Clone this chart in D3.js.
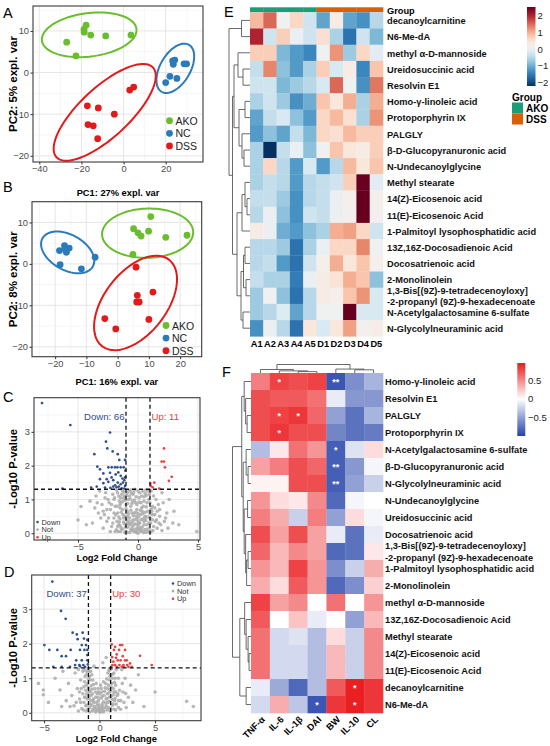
<!DOCTYPE html>
<html><head><meta charset="utf-8">
<script src="https://cdn.jsdelivr.net/npm/d3@7"></script>
<style>body{margin:0;background:#fff} svg{display:block}</style>
</head><body><svg id="c" width="550" height="746"></svg>
<script>
// ---------------- DATA ----------------
const groupNames = ["AKO","NC","DSS"];
const pcaA_AKO = [[-27,7.3],[-22.6,4],[-18.8,10.4],[-18.7,9.7],[-17.8,11.4],[-15.6,9],[-8.5,8.8],[3.5,9]];
const pcaA_NC  = [[20,-2.4],[22,-0.9],[23.6,2],[24.3,3],[23.3,2.8],[25.3,-1.4],[28.7,2.1],[29.9,2.1]];
const pcaA_DSS = [[2.9,-4.2],[4.8,-3.5],[-17.2,-8],[-12,-8.5],[-4.4,-10],[-16.9,-12.5],[-14.4,-12.8],[-12.3,-15.9]];
const pcaB_AKO = [[5.1,8.5],[6.5,7.5],[7.5,6.7],[9.9,7.9],[10.6,11.4],[15.4,6.4],[22.2,6.9],[4.9,2.3]];
const pcaB_NC  = [[-18.6,3.2],[-17,4.4],[-16.7,3.6],[-16.4,2.8],[-15.5,3.8],[-18.4,-0.2],[-11.6,-1.2],[-7.2,1.6]];
const pcaB_DSS = [[5.9,-0.8],[6.3,-7.6],[6.1,-9.2],[6.9,-9.2],[11.3,-6.8],[-4.1,-13.2],[-0.6,-15.7],[10,-13.4]];
const pcaTitlesA = ["PC1: 27% expl. var","PC2: 5% expl. var"];
const pcaTitlesB = ["PC1: 16% expl. var","PC2: 8% expl. var"];

const volcC_down = [[-8,3.85],[-5.64,3.2],[-2.33,2.98],[-2.67,2.71],[-2.56,2.51],[-3.64,2.34],[-2.11,2.42],[-1.69,2.34],[-1.56,2.17],[-1.08,2.17],[-3.39,1.97],[-3.17,1.89],[-2.47,1.95],[-2.19,1.95],[-1.92,1.95],[-1.72,1.95],[-1.44,1.95],[-1.19,1.95],[-2.89,1.77],[-2.33,1.79],[-1.86,1.74],[-1.64,1.8],[-1.44,1.7],[-1.08,1.65],[-3.44,1.38],[-2.89,1.48],[-2.47,1.52],[-2.06,1.57],[-1.69,1.5],[-1.44,1.45],[-1.14,1.57],[-1.08,1.4],[-3.17,1.6],[-2.61,1.6],[-2.06,1.38],[-1.78,1.36],[-1.36,1.33],[-1.14,1.32],[-3.9,1.35],[-2.3,1.34],[-1.9,1.42],[-1.6,1.38],[-1.25,1.5],[-1.05,1.85],[-2.75,1.35],[-6.3,1.32],[-1.3,1.62],[-2.2,1.65]];
const volcC_up = [[2.17,2.51],[1.97,2.12],[2.17,2.12],[2.25,1.95],[2.81,1.67],[2.58,1.55],[1.36,1.5],[1.06,1.4],[1.03,1.47],[1.78,1.32],[1.22,1.36]];
const volcC_not = [[-0.2,0.05],[0.3,0.08],[-0.6,0.1],[0.7,0.12],[-1,0.06],[1.1,0.05],[-1.4,0.15],[0.1,0.18],[-0.4,0.22],[0.5,0.25],[-0.8,0.28],[0.9,0.3],[-1.2,0.33],[1.3,0.2],[-1.6,0.25],[0,0.35],[-0.3,0.4],[0.4,0.42],[-0.7,0.45],[0.8,0.48],[-1.1,0.5],[1.2,0.4],[-1.5,0.42],[1.6,0.15],[-1.8,0.1],[2,0.08],[-2.2,0.2],[0.2,0.55],[-0.5,0.6],[0.6,0.62],[-0.9,0.65],[1,0.58],[-1.3,0.7],[-1.7,0.6],[1.4,0.55],[-0.1,0.7],[0.3,0.75],[-0.6,0.8],[0.7,0.78],[-1,0.85],[-1.4,0.9],[1.1,0.72],[-1.9,0.8],[-0.2,0.9],[0.5,0.95],[-0.8,1],[0.9,1],[-1.2,1.05],[-1.6,1.1],[0.1,1.05],[-0.4,1.15],[0.6,1.18],[-0.9,1.2],[1.3,1.1],[-1.3,1.25],[-2.1,1.15],[-2.5,1],[-2.3,0.7],[-2.8,0.55],[-2.6,0.35],[-3,0.85],[-3.3,0.6],[-2,0.45],[1.8,0.5],[2.2,0.35],[1.7,0.85],[2.4,0.6],[1.5,1],[2,1.2],[0,1.25],[-0.6,1.28],[-1.8,1.28],[-2.7,1.2],[-3.5,1.1],[-4,0.95],[-4.75,0.79],[-5,0.39],[-3.8,0.3],[2.9,0.3],[3.4,0.25],[4.9,0.05],[3,0.65],[2.6,1],[-0.05,0.15],[0.15,0.3],[-0.35,0.05],[0.45,0.02],[-0.75,0.35],[0.65,0.38],[-1.05,0.18],[0.95,0.15],[-1.25,0.55],[1.15,0.65],[-0.15,0.5],[0.35,0.65],[-0.55,0.3],[0.25,0.9],[-0.45,0.95],[-1.5,0.75],[-1.1,1.1],[0.75,0.9],[-2.4,0.9],[-2,1],[-1.75,0.35],[1.9,0.25],[-0.9,0.02],[0,0],[-0.3,0.6],[0.55,0.45],[-1.65,0.05],[1.45,0.35],[-2.9,0.15],[2.5,0.15],[-3.2,1.25],[-4.3,0.25],[-0.25,1.3],[0.85,1.25],[-0.7,1.1],[-3.6,0.75],[-0.1,0.25],[0.2,0.12],[-0.5,0.15],[0.05,0.48],[-0.85,0.5],[0.45,0.8],[-1.35,1.15],[-1.55,0.95],
 [-1.9,0.05],[-1.7,0.2],[-1.55,0.33],[-1.45,0.05],[-1.3,0.12],[-1.15,0.28],[-0.95,0.4],[-0.85,0.18],[-0.65,0.25],[-0.45,0.38],[-0.25,0.12],[-0.1,0.42],[0.05,0.28],[0.25,0.4],[0.35,0.18],[0.55,0.1],[0.75,0.25],[0.85,0.05],[1.05,0.3],[1.25,0.08],
 [-1.85,0.55],[-1.6,0.48],[-1.4,0.62],[-1.2,0.45],[-1,0.72],[-0.8,0.58],[-0.6,0.68],[-0.4,0.52],[-0.2,0.62],[0,0.58],[0.2,0.68],[0.4,0.58],[0.6,0.5],[0.8,0.65],[1,0.45],[1.2,0.55],
 [-1.75,0.8],[-1.5,0.85],[-1.25,0.95],[-1.05,0.98],[-0.85,0.88],[-0.65,1.02],[-0.5,0.88],[-0.3,0.98],[-0.1,0.85],[0.1,0.92],[0.3,1.1],[0.5,1.08],[0.7,1.12],[1,0.9],[1.2,0.8],
 [-1.95,1.05],[-1.7,1.2],[-1.45,1.05],[-1.15,1.22],[-0.95,1.12],[-0.75,1.25],[-0.55,1.18],[-0.35,1.22],[-0.15,1.08],[0.15,1.2],[0.4,1.25],[0.65,1.28],[0.95,1.15],[1.1,1.25],
 [-2.3,0.05],[-2.1,0.3],[-2,0.6],[-2.2,0.85],[-2.6,0.7],[-2.45,0.45],[-2.75,1.05],[-3.1,0.45],[-3.4,0.9],[-2.9,0.65],[1.4,0.75],[1.6,0.65],[1.55,0.4],[1.8,0.7],[2.1,0.9],[1.75,0.3],[2.3,0.45],
 [-0.7,0.02],[-0.5,0.08],[-0.15,0.02],[0.2,0.05],[0.65,0.02],[1,0.02],[-1.1,0.02],[-1.5,0.22],[0.5,0.35],[-0.3,0.28],[0,0.1],[-0.9,0.3]];
const volcC_counts = ["Down: 66","Up: 11"];

const volcD_down = [[-4.25,3.8],[-3.47,2.95],[-3.05,2.72],[-2.42,2.32],[-1.97,2.13],[-1.52,2.32],[-1.1,2.11],[-4.97,1.96],[-4.52,1.82],[-3.8,1.82],[-3.41,1.64],[-3.02,1.64],[-2.6,1.82],[-1.6,1.96],[-1.22,1.96],[-1.76,1.82],[-1.36,1.82],[-1.1,1.82],[-2.2,1.38],[-1.82,1.38],[-1.46,1.38],[-1.1,1.52],[-2.1,1.52],[-1.6,1.52],[-4.16,1.33],[-3.41,1.33],[-2.66,1.33],[-1.31,1.33],[-1.76,1.35],[-1.05,1.4],[-1.1,1.67],[-1.4,2.15],[-2.05,2.27]];
const volcD_up = [[1.1,1.98],[1.4,1.91],[1.85,1.96],[2.05,1.96],[2.3,1.82],[1.3,1.82],[1.55,1.69],[1.64,1.52],[1.9,1.52],[2.3,1.52],[2.45,1.52],[1.25,1.48],[1.16,1.38],[1.4,1.38],[1.79,1.38],[2.15,1.38],[2.5,1.38],[1.55,1.33],[2,1.33],[2.6,1.33],[2.9,1.33],[3.65,1.65],[4.7,1.38],[1.13,1.61],[1.49,1.59],[2.09,1.64],[2.75,1.43],[1.76,1.82],[1.04,1.33],[2.2,1.33]];
const volcD_not = [[0.1,0.02],[-0.3,0.05],[0.4,0.06],[-0.6,0.1],[0.7,0.08],[-0.9,0.15],[1,0.12],[-1.2,0.05],[1.3,0.1],[0,0.15],[-0.2,0.22],[0.25,0.25],[-0.5,0.3],[0.55,0.28],[-0.8,0.35],[0.85,0.33],[-1.1,0.4],[1.15,0.38],[-1.4,0.3],[1.5,0.25],[-1.6,0.12],[1.7,0.15],[-0.1,0.35],[0.15,0.42],[-0.35,0.45],[0.4,0.5],[-0.65,0.55],[0.7,0.55],[-0.95,0.6],[1,0.62],[-1.25,0.65],[1.3,0.6],[-1.5,0.55],[1.6,0.5],[-0.2,0.55],[0.2,0.6],[-0.45,0.7],[0.5,0.72],[-0.75,0.78],[0.8,0.8],[-1.05,0.85],[1.1,0.85],[-1.35,0.9],[1.35,0.88],[-0.6,0.95],[0.65,0.98],[-0.9,1.05],[0.95,1.05],[-1.2,1.1],[1.2,1.12],[-0.8,1.2],[0.85,1.22],[-1.05,1.28],[1.05,1.27],[-1.8,0.4],[1.9,0.35],[-2,0.7],[2.1,0.6],[-1.7,0.95],[1.7,1],[-2.3,0.2],[2.4,0.15],[-2.5,0.5],[2.6,0.45],[-2.2,1.15],[2.3,1],[-3,0.35],[3,0.3],[-2.8,0.85],[2.8,0.8],[-5.5,0.85],[-5.06,0.66],[-5.06,0.52],[-3.56,0.66],[-3.41,0.18],[-2.66,0.18],[4,0.18],[7.85,0.33],[8.45,0.18],[2.05,0.85],[2.35,0.56],[3.25,0.66],[-4,1],[-3.3,1.2],[3.5,1.1],[0.6,1.6],[0.3,1.45],[-0.5,1.35],[-0.05,0.08],[0.3,0.12],[-0.45,0.18],[0.6,0.2],[-0.7,0.22],[0.9,0.45],[-1,0.5],[-0.3,0.85],[0.35,0.9],[-1.5,1.2],[1.5,1.25],[-1.9,1.25],[2,1.25],[-4.6,0.3],[5,0.6],[-0.15,0.7],[0.1,0.8],[-1.15,0.22],[1.2,0.25],[-1.3,0.45],[1.4,0.42],[-0.85,0.62],[0.9,0.68],
 [-1.45,0.08],[-1.25,0.2],[-1.05,0.1],[-0.85,0.25],[-0.65,0.05],[-0.45,0.12],[-0.25,0.3],[-0.05,0.22],[0.15,0.1],[0.35,0.32],[0.55,0.15],[0.75,0.3],[0.95,0.05],[1.15,0.22],[1.35,0.35],[1.45,0.08],
 [-1.35,0.45],[-1.15,0.55],[-0.95,0.42],[-0.75,0.5],[-0.55,0.4],[-0.35,0.6],[-0.15,0.45],[0.05,0.55],[0.25,0.48],[0.45,0.62],[0.65,0.42],[0.85,0.58],[1.05,0.48],[1.25,0.52],[1.45,0.6],
 [-1.4,0.75],[-1.2,0.8],[-1,0.72],[-0.85,0.95],[-0.7,0.68],[-0.55,0.82],[0.55,0.85],[0.7,0.7],[0.9,0.95],[1.05,0.75],[1.25,0.7],[1.45,0.8],
 [-1.3,1.05],[-1.15,1.2],[-1,0.98],[-0.95,1.2],[-0.7,1.1],[0.75,1.15],[0.9,1.25],[1,1.1],[1.15,1],[1.3,1.15],[-1.4,1.25],[1.4,1],
 [-1.7,0.3],[-1.8,0.6],[-1.65,0.7],[1.7,0.35],[1.8,0.65],[1.65,0.55],[-2.1,0.3],[2.2,0.3],[-1.9,0.05],[1.9,0.1],[-0.9,0.02],[0.8,0.15],[0,0.02],[-0.35,0.02],[0.35,0.02],[-0.2,0.12],[0.25,0.18],[-0.6,0.35],[0.6,0.4],[-0.1,0.6],[0.15,0.7]];
const volcD_counts = ["Down: 37","Up: 30"];
const volcClasses = ["Down","Not","Up"];

const heatE_rows = ["decanoylcarnitine","N6-Me-dA","methyl α-D-mannoside","Ureidosuccinic acid","Resolvin E1","Homo-γ-linoleic acid","Protoporphyrin IX","PALGLY","β-D-Glucopyranuronic acid","N-Undecanoylglycine","Methyl stearate","14(Z)-Eicosenoic acid","11(E)-Eicosenoic Acid","1-Palmitoyl lysophosphatidic acid","13Z,16Z-Docosadienoic Acid","Docosatrienoic acid","2-Monolinolein","1,3-Bis[(9Z)-9-tetradecenoyloxy]|-2-propanyl (9Z)-9-hexadecenoate","N-Acetylgalactosamine 6-sulfate","N-Glycolylneuraminic acid"];
const heatE_cols = ["A1","A2","A3","A4","A5","D1","D2","D3","D4","D5"];
const heatE_group = ["AKO","AKO","AKO","AKO","AKO","DSS","DSS","DSS","DSS","DSS"];
const heatE_values = [
 [0.9,1.5,0.1,0.6,-0.3,-1.1,0.3,-1.1,-1.3,-0.5],
 [2.0,-0.3,0.7,0.0,-0.3,0.5,-0.6,-1.6,-0.3,-0.9],
 [0.7,0.7,-0.9,-1.2,-1.4,0.1,1.2,-0.7,0.6,-0.1],
 [-0.4,1.3,-0.8,-1.2,-0.6,0.7,-0.2,0.3,-1.4,0.8],
 [-0.3,-0.3,-0.9,-0.7,-0.5,-0.2,1.5,0.1,-1.3,1.4],
 [-0.6,-0.3,-0.7,-1.3,-1.0,0.8,0.4,1.0,-0.6,1.0],
 [-1.1,-0.4,-0.2,-0.8,-1.2,0.6,0.9,0.5,-0.6,1.2],
 [-1.2,-0.8,-1.1,-0.4,-0.9,0.6,0.5,0.9,0.7,0.7],
 [-0.6,-2.2,-0.4,0.0,-0.8,0.1,0.8,0.4,0.3,0.7],
 [-0.6,0.6,-0.5,-1.2,-0.2,-1.2,-0.5,0.9,0.4,0.8],
 [-0.6,-0.4,-0.5,-1.2,-0.5,-0.4,-0.3,0.7,2.5,-0.1],
 [-0.4,-0.4,-0.7,-1.3,-0.5,-0.4,0.05,0.2,2.5,0.2],
 [-0.5,0.05,-0.8,-1.3,-0.3,-0.4,0.05,0.15,2.5,0.15],
 [0.3,0.05,-1.0,-1.2,-0.8,-0.6,1.0,1.1,0.6,-0.3],
 [-0.5,-0.5,-0.7,-1.6,-0.6,0.0,0.6,0.6,1.3,0.1],
 [-0.5,-0.4,-1.2,-1.6,-0.3,0.2,1.0,0.4,0.8,0.2],
 [-0.4,-0.6,-0.6,-1.5,0.0,0.3,0.45,1.0,0.8,-0.8],
 [-0.7,0.1,-0.8,-1.6,-0.5,0.3,0.2,0.8,1.2,-0.2],
 [-0.7,-0.5,-0.15,-1.1,-0.5,0.1,0.1,2.5,-0.2,-0.2],
 [-1.3,0.05,-0.5,-1.6,0.4,-0.2,0.4,1.1,0.15,0.25]];
const heatE_ticks = [2,1,0,-1,-2];
const heatE_range = [-2.2,2.5];
const heatE_tree = {h:21,c:[{h:8.5,c:[0,1]},{h:17.5,c:[
  {h:16,c:[{h:12,c:[2,{h:7,c:[3,4]}]},{h:11,c:[{h:5,c:[5,6]},{h:8,c:[7,{h:6,c:[8,9]}]}]}]},
  {h:13,c:[{h:8,c:[{h:5,c:[10,{h:3,c:[11,12]}]},13]},{h:9,c:[{h:6.5,c:[{h:5,c:[14,15]},{h:4,c:[16,17]}]},{h:7,c:[18,19]}]}]}]}]};

const heatF_rows = ["Homo-γ-linoleic acid","Resolvin E1","PALGLY","Protoporphyrin IX","N-Acetylgalactosamine 6-sulfate","β-D-Glucopyranuronic acid","N-Glycolylneuraminic acid","N-Undecanoylglycine","Ureidosuccinic acid","Docosatrienoic acid","1,3-Bis[(9Z)-9-tetradecenoyloxy]|-2-propanyl (9Z)-9-hexadecenoate","1-Palmitoyl lysophosphatidic acid","2-Monolinolein","methyl α-D-mannoside","13Z,16Z-Docosadienoic Acid","Methyl stearate","14(Z)-Eicosenoic acid","11(E)-Eicosenoic Acid","decanoylcarnitine","N6-Me-dA"];
const heatF_cols = ["TNF-α","IL-6","IL-1β","DAI","BW","IL-10","CL"];
const heatF_values = [
 [0.55,0.8,0.75,0.8,-0.9,-0.6,-0.4],
 [0.75,0.7,0.7,0.6,-0.1,-0.55,-0.55],
 [0.75,0.8,0.85,0.65,-0.5,-0.75,-0.4],
 [0.75,0.85,0.75,0.75,-0.65,-0.75,-0.7],
 [-0.35,0.1,0.6,0.45,-0.85,-0.15,0.15],
 [0.4,0.55,0.75,0.65,-0.85,-0.55,-0.05],
 [0.05,0.05,0.75,0.75,-0.85,-0.5,-0.25],
 [0.45,0.15,0.1,0.5,-0.8,-0.05,0],
 [0.55,0.35,-0.25,0.55,-0.5,0.15,-0.05],
 [0.75,0.4,0.75,0.4,-0.1,-0.75,-0.1],
 [0.65,0.3,0.5,0.4,-0.8,-0.75,0.1],
 [0.45,0.3,0.8,0.45,-0.6,-0.25,0.35],
 [0.35,0.15,0.7,0.45,-0.8,-0.6,0.2],
 [0.8,0.4,0.5,0,0.6,0,0.45],
 [0.7,0,0.25,-0.1,0,-0.5,0.3],
 [0.6,-0.2,-0.15,-0.35,0.15,-0.25,0.5],
 [0.6,-0.2,-0.2,-0.35,0.3,-0.25,0.5],
 [0.6,-0.2,-0.2,-0.35,0.3,-0.25,0.5],
 [-0.1,-0.45,-0.8,-0.35,0.7,0.95,0.85],
 [-0.2,0.35,-0.3,-0.9,0.85,0.95,0.85]];
const heatF_stars = [[0,1,"*"],[0,4,"**"],[2,1,"*"],[2,2,"*"],[3,1,"*"],[4,4,"*"],[5,4,"**"],[6,4,"**"],[18,5,"*"],[19,3,"*"],[19,5,"*"]];
const heatF_ticks = [0.5,0,-0.5];
const heatF_range = [-1.0,0.97];
const heatF_rowTree = {h:19,c:[
  {h:9.5,c:[{h:7,c:[0,{h:5.5,c:[1,{h:4,c:[2,3]}]}]},{h:8,c:[{h:5,c:[4,{h:3,c:[5,6]}]},{h:7,c:[{h:3.5,c:[7,8]},{h:5.5,c:[9,{h:4.5,c:[{h:3,c:[10,11]},12]}]}]}]}]},
  {h:11.5,c:[{h:6.5,c:[13,{h:5,c:[14,{h:3,c:[15,{h:2,c:[16,17]}]}]}]},{h:5,c:[18,19]}]}]};
const heatF_colTree = {h:8,c:[{h:3.3,c:[0,{h:2,c:[1,{h:1.3,c:[2,3]}]}]},{h:3.7,c:[4,{h:3,c:[5,6]}]}]};

// ---------------- DRAWING ----------------
const FONT = '"Liberation Sans", Arial, Helvetica, sans-serif';
const svg = d3.select('#c').attr('font-family', FONT);
const colGroup = {AKO:"#6abd2c", NC:"#2b7bba", DSS:"#e31a1c"};

function label(t,x,y){ svg.append('text').attr('x',x).attr('y',y).attr('font-size',14.5).attr('fill','#000').text(t); }

function gridAndFrame(g,x,y,box,xMaj,xMin,yMaj,yMin){
  const [x0,x1,y0,y1]=box;
  g.append('rect').attr('x',x0).attr('y',y0).attr('width',x1-x0).attr('height',y1-y0).attr('fill','#fff');
  g.selectAll('.gxm').data(xMin).join('line').attr('x1',d=>x(d)).attr('x2',d=>x(d)).attr('y1',y0).attr('y2',y1).attr('stroke','#f0f0f0').attr('stroke-width',0.6);
  g.selectAll('.gym').data(yMin).join('line').attr('y1',d=>y(d)).attr('y2',d=>y(d)).attr('x1',x0).attr('x2',x1).attr('stroke','#f0f0f0').attr('stroke-width',0.6);
  g.selectAll('.gxM').data(xMaj).join('line').attr('x1',d=>x(d)).attr('x2',d=>x(d)).attr('y1',y0).attr('y2',y1).attr('stroke','#e3e3e3').attr('stroke-width',0.9);
  g.selectAll('.gyM').data(yMaj).join('line').attr('y1',d=>y(d)).attr('y2',d=>y(d)).attr('x1',x0).attr('x2',x1).attr('stroke','#e3e3e3').attr('stroke-width',0.9);
}
function frame(g,box){
  const [x0,x1,y0,y1]=box;
  g.append('rect').attr('x',x0).attr('y',y0).attr('width',x1-x0).attr('height',y1-y0).attr('fill','none').attr('stroke','#3a3a3a').attr('stroke-width',1.1);
}
function axes(g,x,y,box,xt,yt){
  const [x0,x1,y0,y1]=box;
  const fmt=d3.format('d');
  const ax=g.append('g').attr('transform',`translate(0,${y1})`).call(d3.axisBottom(x).tickValues(xt).tickSize(2.5).tickPadding(1).tickFormat(fmt));
  const ay=g.append('g').attr('transform',`translate(${x0},0)`).call(d3.axisLeft(y).tickValues(yt).tickSize(2.5).tickPadding(1.5).tickFormat(fmt));
  [ax,ay].forEach(a=>{a.select('.domain').remove();a.selectAll('line').attr('stroke','#333');
    a.selectAll('text').attr('fill','#4d4d4d').attr('font-size',9.3).attr('font-family',FONT);});
}
function ytitle(g,t,x,yc,fs){ g.append('text').attr('transform',`translate(${x},${yc}) rotate(-90)`).attr('text-anchor','middle').attr('dominant-baseline','central').attr('font-weight','bold').attr('font-size',fs).text(t); }
function xtitle(g,t,xc,y,fs){ g.append('text').attr('x',xc).attr('y',y).attr('text-anchor','middle').attr('dominant-baseline','central').attr('font-weight','bold').attr('font-size',fs).text(t); }

// robust covariance (MASS::cov.trob) + stat_ellipse (type t, level .95)
function ellipsePts(pts){
  const n=pts.length, nu=5, p=2;
  let loc=[d3.mean(pts,d=>d[0]),d3.mean(pts,d=>d[1])];
  let w=pts.map(()=>1), X;
  for(let it=0;it<25;it++){
    const w0=w.slice();
    X=pts.map(d=>[d[0]-loc[0],d[1]-loc[1]]);
    const sw=d3.sum(w);
    let a=0,b=0,c=0;
    X.forEach((v,i)=>{a+=w[i]*v[0]*v[0];b+=w[i]*v[0]*v[1];c+=w[i]*v[1]*v[1];});
    a/=sw;b/=sw;c/=sw;
    const det=a*c-b*b;
    const Q=X.map(v=>(c*v[0]*v[0]-2*b*v[0]*v[1]+a*v[1]*v[1])/det);
    w=Q.map(q=>(nu+p)/(nu+q));
    const sw2=d3.sum(w);
    loc=[d3.sum(pts,(d,i)=>w[i]*d[0])/sw2,d3.sum(pts,(d,i)=>w[i]*d[1])/sw2];
    if(d3.max(w.map((v,i)=>Math.abs(v-w0[i])))<0.01) break;
  }
  let a=0,b=0,c=0;
  X.forEach((v,i)=>{a+=w[i]*v[0]*v[0];b+=w[i]*v[0]*v[1];c+=w[i]*v[1]*v[1];});
  a/=n;b/=n;c/=n;
  const dfd=n-1, qf=dfd/2*(Math.pow(0.05,-2/dfd)-1), r=Math.sqrt(2*qf);
  const r11=Math.sqrt(a), r12=b/r11, r22=Math.sqrt(c-r12*r12);
  return d3.range(0,101).map(k=>{const t=2*Math.PI*k/100, co=Math.cos(t), si=Math.sin(t);
    return [loc[0]+r*co*r11, loc[1]+r*(co*r12+si*r22)];});
}

function pcaPanel(cfg){
  const g=svg.append('g');
  const [x0,x1,y0,y1]=cfg.box;
  const x=d3.scaleLinear().domain(cfg.xd).range([x0,x1]);
  const y=d3.scaleLinear().domain(cfg.yd).range([y1,y0]);
  gridAndFrame(g,x,y,cfg.box,cfg.xMaj,cfg.xMin,[-20,-10,0,10],[-15,-5,5,15]);
  const line=d3.line().x(d=>x(d[0])).y(d=>y(d[1]));
  cfg.sets.forEach((s,i)=>{
    const col=colGroup[groupNames[i]];
    g.append('g').selectAll('circle').data(s).join('circle').attr('cx',d=>x(d[0])).attr('cy',d=>y(d[1])).attr('r',3.4).attr('fill',col);
    g.append('path').datum(ellipsePts(s)).attr('d',line).attr('fill','none').attr('stroke',col).attr('stroke-width',2);
  });
  frame(g,cfg.box);
  axes(g,x,y,cfg.box,cfg.xMaj,[-20,-10,0,10]);
  xtitle(g,cfg.titles[0],(x0+x1)/2,cfg.xty,9.3);
  ytitle(g,cfg.titles[1],12.5,(y0+y1)/2,11.5);
  groupNames.forEach((nm,i)=>{
    const ly=cfg.leg[1]+i*12.6;
    g.append('circle').attr('cx',cfg.leg[0]).attr('cy',ly).attr('r',3.4).attr('fill',colGroup[nm]);
    g.append('text').attr('x',cfg.leg[0]+6).attr('y',ly).attr('dominant-baseline','central').attr('font-size',10.5).attr('fill','#222').text(nm);
  });
}

pcaPanel({box:[33,203,6,162],xd:[-43,37.7],yd:[-21.5,16],xMaj:[-40,-20,0,20],xMin:[-30,-10,10,30],
  sets:[pcaA_AKO,pcaA_NC,pcaA_DSS],titles:pcaTitlesA,xty:193,leg:[169.5,120.7]});
pcaPanel({box:[32,201.7,201.7,356.7],xd:[-27.4,26.9],yd:[-22.4,15],xMaj:[-20,-10,0,10,20],xMin:[-25,-15,-5,5,15,25],
  sets:[pcaB_AKO,pcaB_NC,pcaB_DSS],titles:pcaTitlesB,xty:382,leg:[166,325.5]});

const vCol={Down:"#30508e",Not:"#ababab",Up:"#e8413f"};
function volcPanel(cfg){
  const g=svg.append('g');
  const [x0,x1,y0,y1]=cfg.box;
  const x=d3.scaleLinear().domain(cfg.xd).range([x0,x1]);
  const y=d3.scaleLinear().domain(cfg.yd).range([y1,y0]);
  gridAndFrame(g,x,y,cfg.box,[-5,0,5],cfg.xMin,[0,1,2,3],[0.5,1.5,2.5,3.5]);
  [[cfg.not,'Not'],[cfg.down,'Down'],[cfg.up,'Up']].forEach(([s,k])=>{
    g.append('g').selectAll('circle').data(s).join('circle').attr('cx',d=>x(d[0])).attr('cy',d=>y(d[1])).attr('r',k==='Not'?1.8:1.35).attr('fill',vCol[k]).attr('fill-opacity',k==='Not'?0.85:1);
  });
  const dash=g.append('g').attr('stroke','#111').attr('stroke-width',1.3).attr('stroke-dasharray','4,3');
  [-1,1].forEach(v=>dash.append('line').attr('x1',x(v)).attr('x2',x(v)).attr('y1',y0).attr('y2',y1));
  dash.append('line').attr('x1',x0).attr('x2',x1).attr('y1',y(-Math.log10(0.05))).attr('y2',y(-Math.log10(0.05)));
  frame(g,cfg.box);
  axes(g,x,y,cfg.box,[-5,0,5],[0,1,2,3]);
  xtitle(g,"Log2 Fold Change",(x0+x1)/2,cfg.xty,9.3);
  ytitle(g,"-Log10 P-value",12.5,(y0+y1)/2,11.2);
  g.append('text').attr('x',x(-1)-1.5).attr('y',cfg.cy).attr('text-anchor','end').attr('dominant-baseline','central').attr('font-size',9.6).attr('fill',vCol.Down).text(cfg.counts[0]);
  g.append('text').attr('x',x(1)+1.5).attr('y',cfg.cy).attr('dominant-baseline','central').attr('font-size',9.6).attr('fill',vCol.Up).text(cfg.counts[1]);
  volcClasses.forEach((k,i)=>{
    const ly=cfg.leg[1]+i*7.6;
    g.append('circle').attr('cx',cfg.leg[0]).attr('cy',ly).attr('r',1.3).attr('fill',vCol[k]);
    g.append('text').attr('x',cfg.leg[0]+4).attr('y',ly).attr('dominant-baseline','central').attr('font-size',7.4).attr('fill','#333').text(k);
  });
}
volcPanel({box:[34,200,397.7,540],xd:[-8.67,5.17],yd:[-0.2,4.01],xMin:[-7.5,-2.5,2.5],down:volcC_down,up:volcC_up,not:volcC_not,counts:volcC_counts,cy:416,xty:557.5,leg:[37.5,522]});
volcPanel({box:[31.7,201,575,720.7],xd:[-6.11,9.14],yd:[-0.23,3.99],xMin:[-2.5,2.5,7.5],down:volcD_down,up:volcD_up,not:volcD_not,counts:volcD_counts,cy:593,xty:739,leg:[173,583.5]});

label("A",3,18); label("B",3,192); label("C",3,402); label("D",4,577); label("E",224,17); label("F",222,377);

function dendro(g,tree,leafPos,hs,orient){
  function walk(n){
    if(typeof n==='number') return {p:leafPos(n),h:0};
    const a=walk(n.c[0]), b=walk(n.c[1]);
    const p=(a.p+b.p)/2;
    [a,b].forEach(ch=>{
      if(orient==='left') g.append('line').attr('x1',hs(n.h)).attr('x2',hs(ch.h)).attr('y1',ch.p).attr('y2',ch.p);
      else g.append('line').attr('y1',hs(n.h)).attr('y2',hs(ch.h)).attr('x1',ch.p).attr('x2',ch.p);
    });
    if(orient==='left') g.append('line').attr('x1',hs(n.h)).attr('x2',hs(n.h)).attr('y1',a.p).attr('y2',b.p);
    else g.append('line').attr('y1',hs(n.h)).attr('y2',hs(n.h)).attr('x1',a.p).attr('x2',b.p);
    return {p:p,h:n.h};
  }
  walk(tree);
}
function rowLabels(g,rows,yb,x,fs,gap){
  rows.forEach((r,i)=>{
    const parts=r.split('|'), yc=yb(r)+yb.bandwidth()/2+0.8;
    parts.forEach((t,j)=>{
      const off=(j-(parts.length-1)/2)*gap;
      g.append('text').attr('x',x).attr('y',yc+off).attr('dominant-baseline','central').attr('font-size',fs).attr('font-weight','bold').attr('fill','#111').text(t);
    });
  });
}
function colorBar(id,x,y0,y1,w,range,colorFn,ticks,labX){
  const defs=svg.append('defs');
  const grad=defs.append('linearGradient').attr('id',id).attr('x1',0).attr('x2',0).attr('y1',1).attr('y2',0);
  d3.range(0,21).forEach(k=>{const v=range[0]+(range[1]-range[0])*k/20; grad.append('stop').attr('offset',k/20).attr('stop-color',colorFn(v));});
  svg.append('rect').attr('x',x).attr('y',y0).attr('width',w).attr('height',y1-y0).attr('fill',`url(#${id})`);
  const s=d3.scaleLinear().domain(range).range([y1,y0]);
  ticks.forEach(t=>svg.append('text').attr('x',labX).attr('y',s(t)).attr('dominant-baseline','central').attr('font-size',9.5).attr('fill','#222').text(t<0?'\u2212'+Math.abs(t):String(t)));
}

// ---- Heatmap E ----
{
  const g=svg.append('g');
  const xb=d3.scaleBand().domain(heatE_cols).range([250,383]);
  const yb=d3.scaleBand().domain(heatE_rows).range([12.3,336.3]);
  const cs=d3.scaleSequential(t=>d3.interpolateRdBu(1-t)).domain(heatE_range);
  const grpCol={AKO:"#1b9e77",DSS:"#d95f02"};
  g.selectAll('.grp').data(heatE_cols).join('rect').attr('x',d=>xb(d)).attr('y',7.3).attr('width',xb.bandwidth()+0.3).attr('height',5).attr('fill',(d,i)=>grpCol[heatE_group[i]]);
  heatE_values.forEach((row,i)=>{
    g.append('g').selectAll('rect').data(row).join('rect').attr('x',(d,j)=>xb(heatE_cols[j])).attr('y',yb(heatE_rows[i])).attr('width',xb.bandwidth()+0.3).attr('height',yb.bandwidth()+0.3).attr('fill',d=>cs(d));
  });
  rowLabels(g,heatE_rows,yb,387,9.25,11);
  g.append('text').attr('x',387).attr('y',10.5).attr('dominant-baseline','central').attr('font-size',9.25).attr('font-weight','bold').text("Group");
  g.selectAll('.cl').data(heatE_cols).join('text').attr('x',d=>xb(d)+xb.bandwidth()/2).attr('y',343.5).attr('text-anchor','middle').attr('dominant-baseline','central').attr('font-size',9.25).attr('font-weight','bold').text(d=>d);
  const dg=g.append('g').attr('stroke','#444').attr('stroke-width',0.8);
  const hs=d3.scaleLinear().domain([0,21]).range([250,229]);
  dendro(dg,heatE_tree,i=>yb(heatE_rows[i])+yb.bandwidth()/2,hs,'left');
  colorBar('gE',527,7,86,8.5,heatE_range,v=>cs(v),heatE_ticks,537.5);
  svg.append('text').attr('x',512).attr('y',97).attr('dominant-baseline','central').attr('font-size',10).attr('font-weight','bold').text("Group");
  ["AKO","DSS"].forEach((k,i)=>{
    svg.append('rect').attr('x',512).attr('y',102.5+i*11).attr('width',11).attr('height',11).attr('fill',grpCol[k]);
    svg.append('text').attr('x',526).attr('y',108+i*11).attr('dominant-baseline','central').attr('font-size',10).attr('font-weight','bold').text(k);
  });
}

// ---- Heatmap F ----
{
  const g=svg.append('g');
  const xb=d3.scaleBand().domain(heatF_cols).range([251,383]);
  const yb=d3.scaleBand().domain(heatF_rows).range([373,713]);
  const cs=d3.scaleLinear().domain([heatF_range[0],0,heatF_range[1]]).range(["#2443a9","#ffffff","#ea1a1d"]);
  heatF_values.forEach((row,i)=>{
    g.append('g').selectAll('rect').data(row).join('rect').attr('x',(d,j)=>xb(heatF_cols[j])).attr('y',yb(heatF_rows[i])).attr('width',xb.bandwidth()+0.3).attr('height',yb.bandwidth()+0.3).attr('fill',d=>cs(d));
  });
  heatF_stars.forEach(([r,c,s])=>{
    g.append('text').attr('x',xb(heatF_cols[c])+xb.bandwidth()/2).attr('y',yb(heatF_rows[r])+yb.bandwidth()/2+3.2).attr('text-anchor','middle').attr('font-size',9).attr('font-weight','bold').attr('fill','#fff').text(s);
  });
  rowLabels(g,heatF_rows,yb,385,9.25,12);
  heatF_cols.forEach(c=>{
    const cx=xb(c)+xb.bandwidth()/2+3, cy=718;
    g.append('text').attr('transform',`translate(${cx},${cy}) rotate(-45)`).attr('text-anchor','end').attr('dominant-baseline','central').attr('font-size',9.25).attr('font-weight','bold').text(c);
  });
  const dg=g.append('g').attr('stroke','#444').attr('stroke-width',0.8);
  dendro(dg,heatF_rowTree,i=>yb(heatF_rows[i])+yb.bandwidth()/2,d3.scaleLinear().domain([0,19]).range([251,232.5]),'left');
  dendro(dg,heatF_colTree,i=>xb(heatF_cols[i])+xb.bandwidth()/2,d3.scaleLinear().domain([0,8]).range([373,364.5]),'top');
  colorBar('gF',517.3,363,436,8,heatF_range,v=>cs(v),heatF_ticks,528);
}
</script></body></html>
